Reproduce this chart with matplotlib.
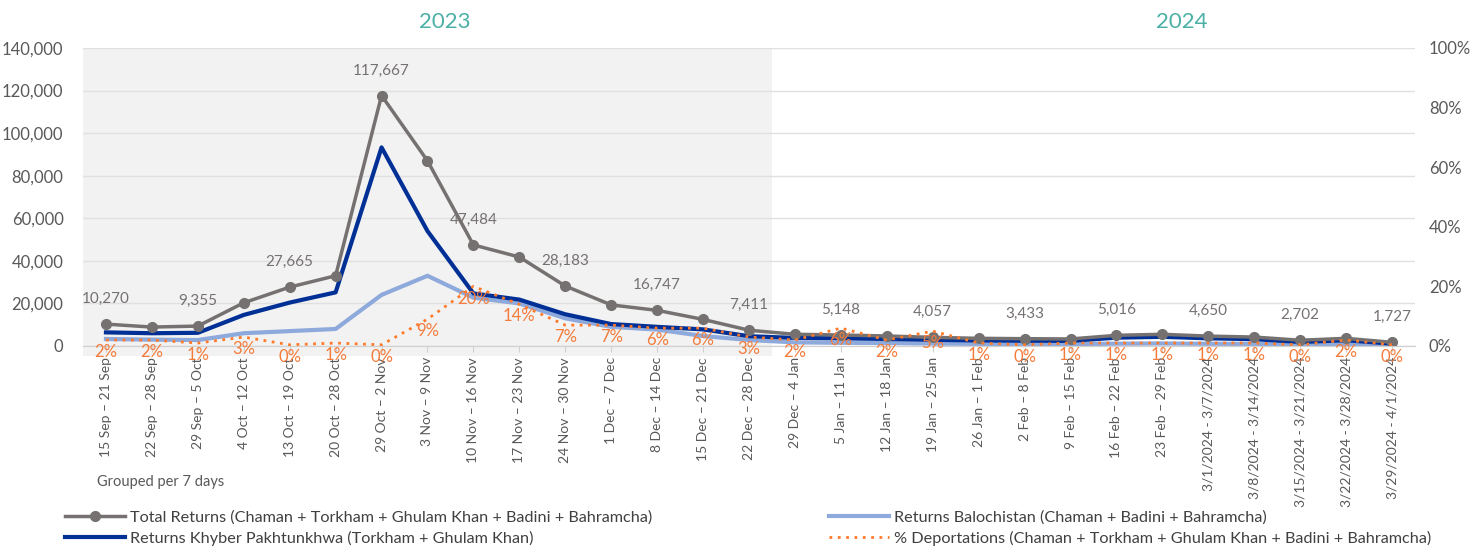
import matplotlib.pyplot as plt
from matplotlib.patches import Rectangle
from matplotlib.ticker import FuncFormatter
import numpy as np

plt.rcParams['font.family'] = ['Lato', 'DejaVu Sans']

weeks = ['15 Sep – 21 Sep', '22 Sep – 28 Sep', '29 Sep – 5 Oct', '4 Oct – 12 Oct',
         '13 Oct – 19 Oct', '20 Oct – 28 Oct', '29 Oct – 2 Nov', '3 Nov – 9 Nov',
         '10 Nov – 16 Nov', '17 Nov – 23 Nov', '24 Nov – 30 Nov', '1 Dec – 7 Dec',
         '8 Dec – 14 Dec', '15 Dec – 21 Dec', '22 Dec – 28 Dec', '29 Dec – 4 Jan',
         '5 Jan – 11 Jan', '12 Jan – 18 Jan', '19 Jan – 25 Jan', '26 Jan – 1 Feb',
         '2 Feb – 8 Feb', '9 Feb – 15 Feb', '16 Feb – 22 Feb', '23 Feb – 29 Feb',
         '3/1/2024 - 3/7/2024', '3/8/2024 - 3/14/2024', '3/15/2024 - 3/21/2024',
         '3/22/2024 - 3/28/2024', '3/29/2024 - 4/1/2024']

total = [10270, 8900, 9355, 20300, 27665, 33000, 117667, 87000, 47484, 41800,
         28183, 19300, 16747, 12500, 7411, 5500, 5148, 4700, 4057, 3600,
         3433, 3300, 5016, 5500, 4650, 4200, 2702, 3600, 1727]
khyber = [6400, 6000, 6200, 14600, 20400, 25200, 93300, 54000, 24700, 21800,
          14900, 10300, 9000, 7800, 4600, 3800, 3600, 3300, 2900, 2600,
          2500, 2400, 3900, 4300, 3600, 3200, 1900, 2700, 1100]
balochistan = [3300, 3000, 2800, 6000, 7000, 8000, 24000, 33000, 22700, 20000,
               13000, 9000, 7700, 4700, 2800, 1700, 1500, 1400, 1150, 1000,
               930, 900, 1100, 1200, 1050, 1000, 800, 900, 627]
deport = [0.02, 0.02, 0.01, 0.03, 0.004, 0.01, 0.004, 0.09, 0.20, 0.14,
          0.07, 0.07, 0.06, 0.06, 0.03, 0.02, 0.06, 0.02, 0.05, 0.01,
          0.004, 0.01, 0.01, 0.01, 0.01, 0.01, 0.004, 0.02, 0.004]

x = np.arange(len(weeks))
grey = '#767171'
orange = '#F47B3A'

fig = plt.figure(figsize=(14.82, 5.48), dpi=100)
ax = fig.add_axes([83/1482, 1-346/548, 1332/1482, 298/548])
ax2 = ax.twinx()

ax.set_xlim(-0.5, len(weeks)-0.5)
ax.set_ylim(0, 140000)
ax2.set_ylim(0, 1.0)

# 2023 shading
ax.add_patch(Rectangle((-0.5, -0.035), 15, 1.035, transform=ax.get_xaxis_transform(),
                       facecolor='#f2f2f2', edgecolor='none', zorder=0, clip_on=False))

ax.yaxis.grid(True, color='#e0e0e0', lw=1)
ax.set_axisbelow(True)

l1, = ax.plot(x, total, color=grey, lw=2.5, marker='o', ms=7, zorder=5,
              label='Total Returns (Chaman + Torkham + Ghulam Khan + Badini + Bahramcha)')
l3, = ax.plot(x, balochistan, color='#8ea9db', lw=3, zorder=3,
              label='Returns Balochistan (Chaman + Badini + Bahramcha)')
l2, = ax.plot(x, khyber, color='#002f96', lw=3, zorder=4,
              label='Returns Khyber Pakhtunkhwa (Torkham + Ghulam Khan)')
l4, = ax2.plot(x, deport, color='#FF7A2A', lw=2, ls=(0, (1, 2)), zorder=6,
               label='% Deportations (Chaman + Torkham + Ghulam Khan + Badini + Bahramcha)')

for i in range(0, len(weeks), 2):
    ax.annotate(f'{total[i]:,}', (x[i], total[i]), xytext=(0, 13), textcoords='offset points',
                ha='center', va='bottom', fontsize=11, color=grey)
for i in range(len(weeks)):
    ax2.annotate(f'{deport[i]:.0%}', (x[i], deport[i]), xytext=(0, -3), textcoords='offset points',
                 ha='center', va='top', fontsize=12, color=orange, zorder=7)

ax.set_xticks(x)
ax.set_xticklabels(weeks, rotation=90, fontsize=10, color='#595959')
ax.yaxis.set_major_formatter(FuncFormatter(lambda v, p: f'{v:,.0f}'))
ax.set_yticks(np.arange(0, 140001, 20000))
ax.tick_params(axis='y', length=0, labelsize=12, labelcolor='#595959', pad=14)
ax.tick_params(axis='x', length=4, color='#d0d0d0', pad=4)
ax2.set_yticks(np.arange(0, 1.01, 0.2))
ax2.yaxis.set_major_formatter(FuncFormatter(lambda v, p: f'{v:.0%}'))
ax2.tick_params(axis='y', length=0, labelsize=12, labelcolor='#595959', pad=10)

for a in (ax, ax2):
    for s in ('top', 'left', 'right'):
        a.spines[s].set_visible(False)
    a.spines['bottom'].set_color('#d0d0d0')

fig.text(445/1482, 1-22/548, '2023', color='#4BB0A6', fontsize=16, ha='center', va='center')
fig.text(1182/1482, 1-22/548, '2024', color='#4BB0A6', fontsize=16, ha='center', va='center')
fig.text(97/1482, 1-482/548, 'Grouped per 7 days', color='#595959', fontsize=10.5, va='center')

fig.legend(handles=[l1, l2, l3, l4], loc='center left', ncol=2,
           bbox_to_anchor=(50/1482, 1-528/548), frameon=False, fontsize=11.7,
           handlelength=3.7, handletextpad=0.3, columnspacing=10.9, labelspacing=0.35,
           labelcolor='#404040')

fig.savefig('out.png', dpi=100)
